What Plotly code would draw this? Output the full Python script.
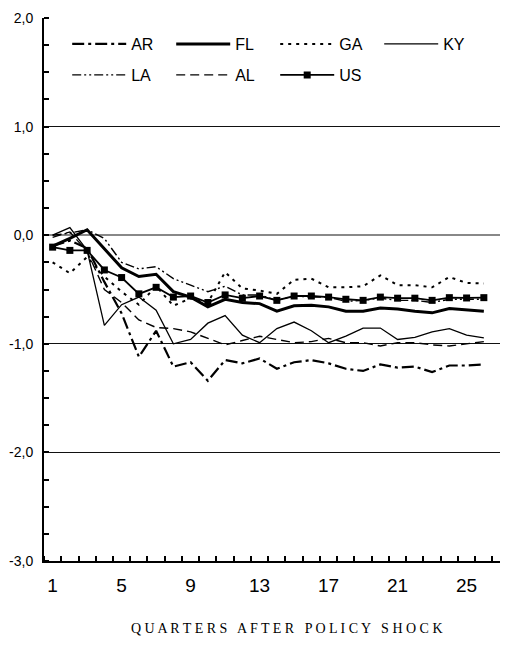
import plotly.graph_objects as go

quarters = list(range(1, 27))
x_tick_vals = [1, 5, 9, 13, 17, 21, 25]
y_tick_vals = [2, 1, 0, -1, -2, -3]
y_tick_text = [f"{v:.1f}".replace(".", ",") for v in y_tick_vals]

AR = [-0.10, -0.05, -0.12, -0.43, -0.72, -1.12, -0.88, -1.21, -1.17, -1.34, -1.15, -1.18, -1.135,
      -1.23, -1.17, -1.15, -1.18, -1.23, -1.25, -1.19, -1.22, -1.21, -1.26, -1.20, -1.20, -1.19]
FL = [-0.10, -0.03, 0.05, -0.13, -0.30, -0.38, -0.36, -0.52, -0.57, -0.66, -0.59, -0.62, -0.63,
      -0.70, -0.65, -0.645, -0.66, -0.70, -0.70, -0.67, -0.68, -0.70, -0.715, -0.675, -0.69, -0.70]
GA = [-0.25, -0.35, -0.20, -0.38, -0.52, -0.64, -0.47, -0.65, -0.58, -0.62, -0.34, -0.49, -0.51,
      -0.54, -0.41, -0.40, -0.48, -0.48, -0.47, -0.37, -0.46, -0.46, -0.48, -0.385, -0.44, -0.445]
KY = [0.0, 0.07, -0.14, -0.83, -0.64, -0.57, -0.69, -1.00, -0.96, -0.81, -0.74, -0.92, -0.99,
      -0.86, -0.80, -0.88, -0.99, -0.93, -0.855, -0.855, -0.96, -0.94, -0.89, -0.86, -0.92, -0.945]
LA = [0.0, 0.02, 0.05, -0.03, -0.25, -0.31, -0.29, -0.40, -0.46, -0.52, -0.47, -0.55, -0.55,
      -0.60, -0.56, -0.57, -0.57, -0.61, -0.60, -0.58, -0.60, -0.60, -0.62, -0.59, -0.59, -0.59]
AL = [-0.02, 0.03, -0.15, -0.50, -0.62, -0.78, -0.85, -0.86, -0.89, -0.95, -1.01, -0.97, -0.93,
      -0.96, -0.99, -0.98, -0.95, -0.99, -0.99, -1.02, -0.99, -0.99, -1.01, -1.02, -1.00, -0.98]
US = [-0.11, -0.14, -0.14, -0.32, -0.39, -0.54, -0.48, -0.57, -0.56, -0.62, -0.55, -0.58, -0.56,
      -0.60, -0.56, -0.56, -0.57, -0.59, -0.60, -0.57, -0.58, -0.58, -0.60, -0.575, -0.578, -0.575]

series = [
    ("AR", AR, dict(color="black", width=2.2, dash="12px,4px,3px,4px"), "legend"),
    ("FL", FL, dict(color="black", width=3), "legend"),
    ("GA", GA, dict(color="black", width=2, dash="3px,5px"), "legend"),
    ("KY", KY, dict(color="black", width=1.3), "legend"),
    ("LA", LA, dict(color="black", width=1.4, dash="9px,3px,2px,3px,2px,3px"), "legend2"),
    ("AL", AL, dict(color="black", width=1.4, dash="9px,5px"), "legend2"),
]

fig = go.Figure()
for name, vals, line, leg in series:
    fig.add_trace(go.Scatter(x=quarters, y=vals, mode="lines", name=name, line=line, legend=leg))
fig.add_trace(go.Scatter(x=quarters, y=US, mode="lines+markers", name="US",
                         line=dict(color="black", width=1.8),
                         marker=dict(symbol="square", size=7, color="black"),
                         legend="legend2"))

legfont = dict(family="Liberation Sans, Arial, sans-serif", size=16, color="black")
fig.update_layout(
    width=508, height=665,
    margin=dict(l=36, r=8, t=10, b=112, autoexpand=False),
    paper_bgcolor="white", plot_bgcolor="white",
    showlegend=True,
    legend=dict(orientation="h", x=0.05, y=0.952, xanchor="left", yanchor="middle",
                font=legfont, itemwidth=54, entrywidth=35, bgcolor="rgba(0,0,0,0)",
                traceorder="normal"),
    legend2=dict(orientation="h", x=0.05, y=0.895, xanchor="left", yanchor="middle",
                 font=legfont, itemwidth=54, entrywidth=35, bgcolor="rgba(0,0,0,0)",
                 traceorder="normal"),
    xaxis=dict(range=[0.5, 27.4], showgrid=False, zeroline=False, automargin=False,
               showline=True, linecolor="black", linewidth=2,
               tickmode="array", tickvals=x_tick_vals, ticks="",
               tickfont=dict(family="Liberation Sans, Arial, sans-serif", size=19, color="black"),
               ticklabelstandoff=6,
               minor=dict(tick0=0.5, dtick=1, ticks="inside", ticklen=5,
                          tickcolor="black", tickwidth=1.5, showgrid=False)),
    yaxis=dict(range=[-3, 2], showgrid=True, gridcolor="#111", gridwidth=1, automargin=False,
               zeroline=True, zerolinecolor="#888", zerolinewidth=1.5,
               showline=True, linecolor="black", linewidth=2,
               tickmode="array", tickvals=y_tick_vals, ticktext=y_tick_text, ticks="",
               tickfont=dict(family="Liberation Sans, Arial, sans-serif", size=14, color="black"),
               ticklabelstandoff=6,
               minor=dict(tick0=0, dtick=0.25, ticks="inside", ticklen=5,
                          tickcolor="black", tickwidth=1.5, showgrid=False)),
    annotations=[dict(text="Q U A R T E R S &nbsp; A F T E R &nbsp; P O L I C Y &nbsp; S H O C K",
                      xref="paper", yref="paper", x=0.523, y=-0.125,
                      xanchor="center", yanchor="middle", showarrow=False,
                      font=dict(family="Liberation Serif, DejaVu Serif, serif", size=14, color="black"))],
)

fig.write_html("out.html")
